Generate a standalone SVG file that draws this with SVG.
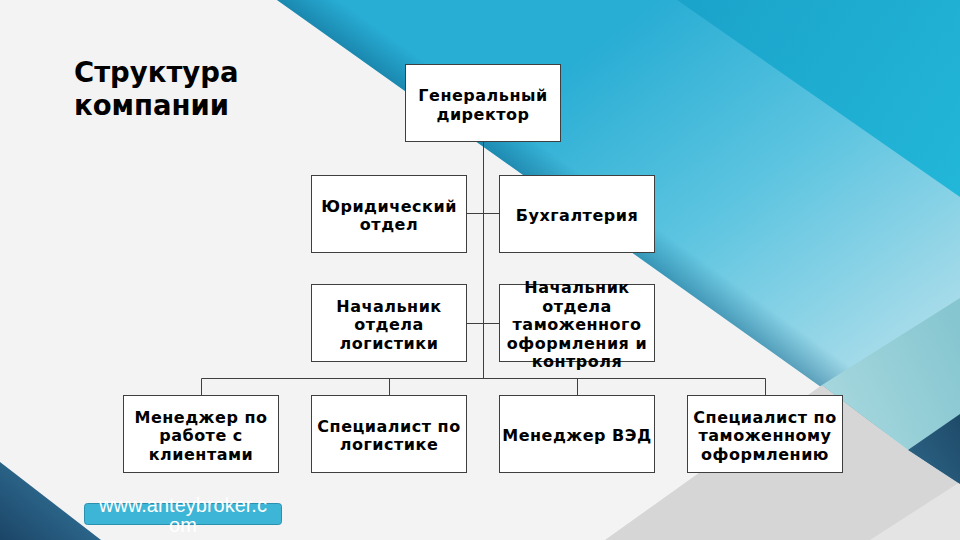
<svg xmlns="http://www.w3.org/2000/svg" width="960" height="540" viewBox="0 0 960 540">
<defs>
<style>
.box{fill:#ffffff;stroke:#3f3f3f;stroke-width:1}
.t{font-family:"DejaVu Sans","Noto Sans",sans-serif;font-weight:bold;font-size:16px;letter-spacing:0.5px;fill:#000;text-anchor:middle}
.title{font-family:"DejaVu Sans","Noto Sans",sans-serif;font-weight:bold;font-size:27.5px;fill:#000}
.conn{fill:none;stroke:#3f3f3f;stroke-width:1}
.link{font-family:"Liberation Sans","Noto Sans",sans-serif;font-size:20px;fill:#ffffff;text-anchor:middle}
</style>
<linearGradient id="gBlue" gradientUnits="userSpaceOnUse" x1="600" y1="40" x2="870" y2="410">
<stop offset="0" stop-color="#28add4"/>
<stop offset="0.45" stop-color="#5cc4e0"/>
<stop offset="1" stop-color="#b2dfeb"/>
</linearGradient>
<linearGradient id="gDark" gradientUnits="userSpaceOnUse" x1="700" y1="0" x2="960" y2="180">
<stop offset="0" stop-color="#1ba4cb"/>
<stop offset="1" stop-color="#22b6d8"/>
</linearGradient>
<linearGradient id="gShadow" gradientUnits="userSpaceOnUse" x1="500" y1="158" x2="520" y2="130">
<stop offset="0" stop-color="#0b5d85" stop-opacity="0.45"/>
<stop offset="1" stop-color="#0b5d85" stop-opacity="0"/>
</linearGradient>
<linearGradient id="gTeal" gradientUnits="userSpaceOnUse" x1="830" y1="390" x2="960" y2="330">
<stop offset="0" stop-color="#a4d6dd"/>
<stop offset="1" stop-color="#86c6d0"/>
</linearGradient>
<linearGradient id="gNavy" gradientUnits="userSpaceOnUse" x1="910" y1="450" x2="960" y2="420">
<stop offset="0" stop-color="#2a5f80"/>
<stop offset="1" stop-color="#1f4b6a"/>
</linearGradient>
<linearGradient id="gNavyL" gradientUnits="userSpaceOnUse" x1="0" y1="540" x2="50" y2="480">
<stop offset="0" stop-color="#1b4567"/>
<stop offset="1" stop-color="#2e6b90"/>
</linearGradient>
</defs>

<!-- background -->
<rect x="0" y="0" width="960" height="540" fill="#f3f3f3"/>
<polygon points="277,0 960,0 960,486" fill="url(#gBlue)"/>
<polygon points="677,0 960,0 960,197" fill="url(#gDark)"/>
<polygon points="277,0 960,0 960,486" fill="url(#gShadow)"/>
<polygon points="605,540 822,385 908,450 960,484 960,540" fill="#d6d6d6"/>
<polygon points="822,385 960,298 960,415 908,450" fill="url(#gTeal)"/>
<polygon points="870,540 960,482 960,540" fill="#e4e4e4"/>
<polygon points="908,450 960,414 960,484" fill="url(#gNavy)"/>
<polygon points="0,462 0,540 101,540" fill="url(#gNavyL)"/>

<!-- title -->
<g id="title">
<text class="title" x="74" y="82">Структура</text>
<text class="title" x="74" y="115">компании</text>
</g>

<!-- connectors -->
<g id="connectors">
<line class="conn" x1="483.5" y1="141.5" x2="483.5" y2="378.5"/>
<line class="conn" x1="466.5" y1="213.5" x2="499.5" y2="213.5"/>
<line class="conn" x1="466.5" y1="323.5" x2="499.5" y2="323.5"/>
<line class="conn" x1="201.5" y1="378.5" x2="765.5" y2="378.5"/>
<line class="conn" x1="201.5" y1="378.5" x2="201.5" y2="395.5"/>
<line class="conn" x1="389.5" y1="378.5" x2="389.5" y2="395.5"/>
<line class="conn" x1="577.5" y1="378.5" x2="577.5" y2="395.5"/>
<line class="conn" x1="765.5" y1="378.5" x2="765.5" y2="395.5"/>
</g>

<g id="gen-director">
<rect class="box" x="405.5" y="64.5" width="155" height="77"/>
<text class="t" x="483" y="101">Генеральный</text>
<text class="t" x="483" y="119.5">директор</text>
</g>

<g id="legal">
<rect class="box" x="311.5" y="175.5" width="155" height="77"/>
<text class="t" x="389" y="211.75">Юридический</text>
<text class="t" x="389" y="230.25">отдел</text>
</g>

<g id="accounting">
<rect class="box" x="499.5" y="175.5" width="155" height="77"/>
<text class="t" x="577" y="220.5">Бухгалтерия</text>
</g>

<g id="logistics-head">
<rect class="box" x="311.5" y="284.5" width="155" height="77"/>
<text class="t" x="389" y="311.5">Начальник</text>
<text class="t" x="389" y="330">отдела</text>
<text class="t" x="389" y="348.5">логистики</text>
</g>

<g id="customs-head">
<rect class="box" x="499.5" y="284.5" width="155" height="77"/>
<text class="t" x="577" y="293">Начальник</text>
<text class="t" x="577" y="311.5">отдела</text>
<text class="t" x="577" y="330">таможенного</text>
<text class="t" x="577" y="348.5">оформления и</text>
<text class="t" x="577" y="367">контроля</text>
</g>

<g id="client-manager">
<rect class="box" x="123.5" y="395.5" width="155" height="77"/>
<text class="t" x="201" y="422.5">Менеджер по</text>
<text class="t" x="201" y="441">работе с</text>
<text class="t" x="201" y="459.5">клиентами</text>
</g>

<g id="logistics-specialist">
<rect class="box" x="311.5" y="395.5" width="155" height="77"/>
<text class="t" x="389" y="431.75">Специалист по</text>
<text class="t" x="389" y="450.25">логистике</text>
</g>

<g id="ved-manager">
<rect class="box" x="499.5" y="395.5" width="155" height="77"/>
<text class="t" x="577" y="440.5">Менеджер ВЭД</text>
</g>

<g id="customs-specialist">
<rect class="box" x="687.5" y="395.5" width="155" height="77"/>
<text class="t" x="765" y="422.5">Специалист по</text>
<text class="t" x="765" y="441">таможенному</text>
<text class="t" x="765" y="459.5">оформлению</text>
</g>

<g id="website">
<rect x="84.5" y="503.5" width="197" height="21" rx="3" fill="#3cb5d6" stroke="#2b8fae" stroke-width="1"/>
<text class="link" x="183" y="511.5">www.anteybroker.c</text>
<text class="link" x="183" y="532">om</text>
</g>
</svg>
